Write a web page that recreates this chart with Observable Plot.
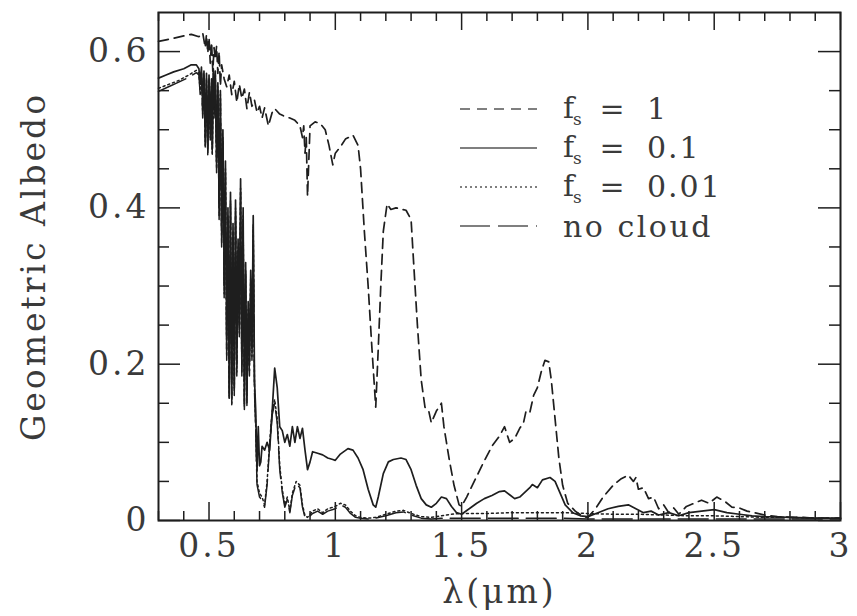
<!DOCTYPE html>
<html><head><meta charset="utf-8">
<script src="https://cdn.jsdelivr.net/npm/d3@7"></script>
<script src="https://cdn.jsdelivr.net/npm/@observablehq/plot@0.6"></script>
<style>
body{margin:0;background:#fff;}
#wrap{position:relative;width:857px;height:616px;}
#legend{position:absolute;left:0;top:0;pointer-events:none;}
</style></head><body>
<div id="wrap"></div>
<script>
// ---- data: [wavelength (µm), geometric albedo] ----
const fs1 = [
[0.30,0.613],[0.33,0.615],[0.36,0.617],[0.40,0.620],[0.43,0.622],[0.46,0.619],[0.475,0.624],[0.485,0.605],
[0.49,0.622],[0.495,0.598],[0.50,0.618],[0.505,0.585],[0.51,0.612],[0.515,0.575],[0.52,0.605],[0.525,0.59],
[0.53,0.607],[0.535,0.572],[0.54,0.60],[0.545,0.556],[0.55,0.583],[0.56,0.565],[0.57,0.555],[0.58,0.57],
[0.59,0.545],[0.60,0.562],[0.61,0.535],[0.62,0.558],[0.63,0.54],[0.64,0.552],[0.65,0.527],[0.66,0.548],
[0.67,0.53],[0.68,0.538],[0.69,0.522],[0.70,0.53],[0.71,0.515],[0.72,0.528],[0.735,0.505],[0.75,0.522],
[0.76,0.527],[0.78,0.52],[0.80,0.517],[0.82,0.515],[0.84,0.512],[0.86,0.505],[0.87,0.49],[0.875,0.505],
[0.88,0.47],[0.885,0.49],[0.89,0.415],[0.895,0.46],[0.90,0.505],[0.92,0.51],[0.94,0.508],[0.96,0.50],
[0.975,0.48],[0.99,0.455],[1.00,0.47],[1.02,0.478],[1.04,0.488],[1.07,0.493],[1.09,0.48],[1.10,0.45],
[1.115,0.37],[1.13,0.30],[1.145,0.22],[1.16,0.145],[1.17,0.22],[1.18,0.30],[1.19,0.37],[1.205,0.405],
[1.22,0.398],[1.24,0.40],[1.28,0.397],[1.30,0.385],[1.31,0.33],[1.325,0.25],[1.34,0.18],[1.355,0.145],
[1.37,0.14],[1.38,0.125],[1.40,0.14],[1.42,0.15],[1.43,0.12],[1.45,0.08],[1.47,0.045],[1.49,0.02],
[1.50,0.018],[1.52,0.03],[1.55,0.05],[1.58,0.07],[1.62,0.095],[1.65,0.108],[1.67,0.12],[1.69,0.10],
[1.71,0.105],[1.73,0.118],[1.745,0.125],[1.755,0.14],[1.77,0.138],[1.785,0.16],[1.80,0.17],[1.815,0.19],
[1.83,0.205],[1.845,0.203],[1.855,0.18],[1.87,0.13],[1.885,0.08],[1.90,0.045],[1.92,0.022],[1.95,0.012],
[1.98,0.005],[2.00,0.004],[2.03,0.015],[2.06,0.03],[2.10,0.045],[2.13,0.053],[2.16,0.058],[2.18,0.05],
[2.19,0.055],[2.20,0.04],[2.22,0.042],[2.24,0.028],[2.26,0.03],[2.28,0.015],[2.30,0.02],[2.32,0.01],
[2.34,0.016],[2.36,0.008],[2.39,0.018],[2.42,0.022],[2.45,0.026],[2.48,0.022],[2.51,0.03],[2.54,0.025],
[2.57,0.017],[2.60,0.016],[2.63,0.012],[2.66,0.01],[2.70,0.007],[2.75,0.005],[2.80,0.004],[2.85,0.004],
[2.90,0.003],[2.95,0.003],[3.00,0.003]
];
const fs01 = [
[0.30,0.566],[0.33,0.57],[0.36,0.574],[0.40,0.578],[0.43,0.583],[0.45,0.583],[0.46,0.578],[0.465,0.56],
[0.47,0.58],[0.475,0.53],[0.48,0.575],[0.485,0.49],[0.49,0.572],[0.495,0.476],[0.50,0.57],[0.505,0.50],
[0.51,0.565],[0.513,0.476],[0.517,0.578],[0.52,0.53],[0.525,0.575],[0.53,0.46],[0.535,0.56],[0.54,0.40],
[0.545,0.55],[0.55,0.366],[0.555,0.50],[0.56,0.30],[0.565,0.46],[0.57,0.22],[0.575,0.40],[0.58,0.16],
[0.585,0.42],[0.59,0.157],[0.595,0.38],[0.60,0.17],[0.605,0.41],[0.61,0.20],[0.615,0.36],[0.62,0.25],
[0.625,0.437],[0.63,0.20],[0.635,0.40],[0.64,0.15],[0.645,0.33],[0.65,0.16],[0.655,0.28],[0.66,0.20],
[0.665,0.32],[0.67,0.22],[0.675,0.39],[0.68,0.18],[0.685,0.14],[0.69,0.064],[0.695,0.12],[0.70,0.07],
[0.705,0.075],[0.71,0.095],[0.72,0.09],[0.73,0.10],[0.74,0.09],[0.75,0.14],[0.76,0.195],[0.77,0.17],
[0.78,0.12],[0.79,0.115],[0.80,0.10],[0.81,0.11],[0.82,0.095],[0.83,0.12],[0.84,0.10],[0.85,0.12],
[0.86,0.105],[0.87,0.118],[0.88,0.09],[0.89,0.065],[0.90,0.075],[0.91,0.088],[0.93,0.086],[0.95,0.084],
[0.97,0.08],[0.99,0.078],[1.00,0.077],[1.02,0.085],[1.05,0.092],[1.07,0.09],[1.09,0.08],[1.11,0.065],
[1.13,0.04],[1.15,0.02],[1.16,0.017],[1.17,0.03],[1.19,0.06],[1.21,0.075],[1.23,0.078],[1.26,0.08],
[1.28,0.078],[1.30,0.065],[1.32,0.045],[1.34,0.028],[1.36,0.02],[1.38,0.017],[1.40,0.022],[1.42,0.03],
[1.44,0.028],[1.46,0.018],[1.48,0.01],[1.50,0.008],[1.53,0.015],[1.56,0.022],[1.59,0.028],[1.62,0.032],
[1.65,0.037],[1.67,0.038],[1.69,0.033],[1.71,0.028],[1.73,0.03],[1.75,0.036],[1.77,0.042],[1.78,0.046],
[1.80,0.042],[1.82,0.052],[1.85,0.055],[1.87,0.05],[1.89,0.035],[1.91,0.02],[1.94,0.01],[1.97,0.006],
[2.00,0.005],[2.04,0.01],[2.08,0.015],[2.12,0.018],[2.16,0.02],[2.19,0.015],[2.22,0.01],[2.25,0.012],
[2.28,0.007],[2.32,0.01],[2.36,0.006],[2.40,0.01],[2.45,0.012],[2.50,0.014],[2.55,0.01],[2.60,0.008],
[2.65,0.006],[2.70,0.005],[2.80,0.004],[2.90,0.003],[3.00,0.003]
];
const fs001 = [
[0.30,0.553],[0.34,0.558],[0.38,0.563],[0.42,0.57],[0.45,0.576],[0.46,0.572],[0.465,0.55],[0.47,0.575],
[0.475,0.52],[0.48,0.57],[0.485,0.48],[0.49,0.566],[0.495,0.47],[0.50,0.565],[0.505,0.49],[0.51,0.56],
[0.513,0.47],[0.517,0.572],[0.52,0.52],[0.525,0.57],[0.53,0.45],[0.535,0.555],[0.54,0.39],[0.545,0.545],
[0.55,0.355],[0.555,0.49],[0.56,0.29],[0.565,0.45],[0.57,0.21],[0.575,0.39],[0.58,0.155],[0.585,0.41],
[0.59,0.15],[0.595,0.37],[0.60,0.165],[0.605,0.40],[0.61,0.19],[0.615,0.35],[0.62,0.24],[0.625,0.425],
[0.63,0.19],[0.635,0.39],[0.64,0.145],[0.645,0.32],[0.65,0.15],[0.655,0.27],[0.66,0.19],[0.665,0.31],
[0.67,0.21],[0.675,0.38],[0.68,0.17],[0.685,0.12],[0.69,0.05],[0.70,0.035],[0.71,0.03],[0.72,0.02],
[0.73,0.05],[0.74,0.10],[0.75,0.14],[0.76,0.155],[0.77,0.13],[0.78,0.07],[0.79,0.04],[0.80,0.02],
[0.81,0.03],[0.82,0.012],[0.83,0.035],[0.845,0.05],[0.86,0.045],[0.87,0.02],[0.88,0.006],[0.89,0.004],
[0.91,0.012],[0.93,0.015],[0.95,0.01],[0.97,0.015],[1.00,0.018],[1.02,0.022],[1.04,0.02],[1.06,0.012],
[1.08,0.006],[1.10,0.004],[1.13,0.003],[1.16,0.004],[1.20,0.008],[1.24,0.012],[1.27,0.013],[1.30,0.009],
[1.34,0.005],[1.38,0.004],[1.42,0.006],[1.46,0.008],[1.50,0.009],[1.60,0.009],[1.70,0.01],[1.80,0.01],
[1.90,0.01],[2.00,0.009],[2.10,0.008],[2.20,0.008],[2.30,0.007],[2.40,0.006],[2.50,0.006],[2.60,0.005],
[2.70,0.004],[2.80,0.004],[2.90,0.003],[3.00,0.003]
];
const noCloud = [
[0.30,0.549],[0.34,0.555],[0.38,0.561],[0.42,0.567],[0.45,0.573],[0.46,0.57],[0.465,0.545],[0.47,0.572],
[0.475,0.515],[0.48,0.567],[0.485,0.478],[0.49,0.563],[0.495,0.468],[0.50,0.562],[0.505,0.487],[0.51,0.557],
[0.513,0.468],[0.517,0.57],[0.52,0.515],[0.525,0.566],[0.53,0.445],[0.535,0.552],[0.54,0.385],[0.545,0.54],
[0.55,0.35],[0.555,0.485],[0.56,0.285],[0.565,0.445],[0.57,0.205],[0.575,0.385],[0.58,0.152],[0.585,0.405],
[0.59,0.148],[0.595,0.365],[0.60,0.16],[0.605,0.395],[0.61,0.185],[0.615,0.345],[0.62,0.235],[0.625,0.42],
[0.63,0.185],[0.635,0.385],[0.64,0.142],[0.645,0.315],[0.65,0.147],[0.655,0.265],[0.66,0.185],[0.665,0.305],
[0.67,0.205],[0.675,0.375],[0.68,0.165],[0.685,0.115],[0.69,0.046],[0.70,0.03],[0.71,0.026],[0.72,0.017],
[0.73,0.046],[0.74,0.095],[0.75,0.135],[0.76,0.15],[0.77,0.125],[0.78,0.065],[0.79,0.036],[0.80,0.017],
[0.81,0.027],[0.82,0.01],[0.83,0.032],[0.845,0.047],[0.86,0.042],[0.87,0.017],[0.88,0.004],[0.89,0.003],
[0.91,0.009],[0.93,0.012],[0.95,0.008],[0.97,0.012],[1.00,0.015],[1.02,0.02],[1.04,0.017],[1.06,0.009],
[1.08,0.004],[1.10,0.003],[1.13,0.002],[1.16,0.003],[1.20,0.006],[1.24,0.01],[1.27,0.011],[1.30,0.007],
[1.34,0.003],[1.38,0.002],[1.42,0.003],[1.46,0.003],[1.50,0.003],[1.60,0.003],[1.70,0.003],[1.80,0.003],
[1.90,0.003],[2.00,0.002],[2.20,0.002],[2.40,0.002],[2.60,0.002],[2.80,0.002],[3.00,0.002]
];

// ---- axis tick values ----
const xMajor = [0.5, 1, 1.5, 2, 2.5, 3];
const xMinor = [0.3,0.4,0.6,0.7,0.8,0.9,1.1,1.2,1.3,1.4,1.6,1.7,1.8,1.9,2.1,2.2,2.3,2.4,2.6,2.7,2.8,2.9];
const yMajor = [0, 0.2, 0.4, 0.6];
const yMinor = [0.05,0.1,0.15,0.25,0.3,0.35,0.45,0.5,0.55];

// ---- legend ----
const legendValues = ["1", "0.1", "0.01"];
const legendNoCloud = "no cloud";

const toRows = arr => arr.map(([wl, alb]) => ({wl, alb}));

const W = 857, H = 616;
const mL = 158, mR = 17, mT = 12, mB = 96;
const FW = W - mL - mR, FH = H - mT - mB;
const ink = "#1e1e1e";

const chart = Plot.plot({
  width: W, height: H,
  marginLeft: mL, marginRight: mR, marginTop: mT, marginBottom: mB,
  style: {fontFamily: "'DejaVu Serif', serif", fontSize: "33px", color: "#3a3a3a", background: "#fff", letterSpacing: "3px"},
  x: {domain: [0.3, 3]},
  y: {domain: [0, 0.65]},
  marks: [
    Plot.line(toRows(noCloud), {x: "wl", y: "alb", stroke: ink, strokeWidth: 1.5, strokeDasharray: "30,8"}),
    Plot.line(toRows(fs001), {x: "wl", y: "alb", stroke: ink, strokeWidth: 1.5, strokeDasharray: "2,3"}),
    Plot.line(toRows(fs01), {x: "wl", y: "alb", stroke: ink, strokeWidth: 1.7}),
    Plot.line(toRows(fs1), {x: "wl", y: "alb", stroke: ink, strokeWidth: 1.7, strokeDasharray: "10,6"}),
    // inward ticks
    Plot.tickX(xMinor, {x: d => d, insetTop: FH - 9, stroke: ink, strokeWidth: 1.5}),
    Plot.tickX(xMinor, {x: d => d, insetBottom: FH - 9, stroke: ink, strokeWidth: 1.5}),
    Plot.tickX(xMajor, {x: d => d, insetTop: FH - 18, stroke: ink, strokeWidth: 1.5}),
    Plot.tickX(xMajor, {x: d => d, insetBottom: FH - 18, stroke: ink, strokeWidth: 1.5}),
    Plot.tickY(yMinor, {y: d => d, insetRight: FW - 11, stroke: ink, strokeWidth: 1.5}),
    Plot.tickY(yMinor, {y: d => d, insetLeft: FW - 11, stroke: ink, strokeWidth: 1.5}),
    Plot.tickY(yMajor, {y: d => d, insetRight: FW - 22, stroke: ink, strokeWidth: 1.5}),
    Plot.tickY(yMajor, {y: d => d, insetLeft: FW - 22, stroke: ink, strokeWidth: 1.5}),
    Plot.axisX({ticks: xMajor, tickSize: 0, tickPadding: 13, tickFormat: d => String(d),
      label: "λ(μm)", labelAnchor: "center", labelOffset: 82, labelArrow: "none"}),
    Plot.axisY({ticks: yMajor, tickSize: 0, tickPadding: 9, tickFormat: d => d === 0 ? "0" : d.toFixed(1),
      label: "Geometric Albedo", labelAnchor: "center", labelOffset: 137, labelArrow: "none"}),
    Plot.frame({stroke: ink, strokeWidth: 2})
  ]
});
const wrap = document.getElementById("wrap");
wrap.appendChild(chart);

// legend overlay
const leg = d3.select(wrap).append("svg").attr("id", "legend").attr("width", W).attr("height", H)
  .style("font-family", "'DejaVu Serif', serif").style("fill", "#3a3a3a");
const entries = [
  {dash: "10,7", val: legendValues[0]},
  {dash: null, val: legendValues[1]},
  {dash: "2,3", val: legendValues[2]},
  {dash: "30,8", text: legendNoCloud}
];
entries.forEach((e, i) => {
  const y = 109 + i * 39;
  leg.append("line").attr("x1", 460).attr("x2", 537).attr("y1", y).attr("y2", y)
    .attr("stroke", "#555").attr("stroke-width", 1.5).attr("stroke-dasharray", e.dash);
  if (e.text) {
    leg.append("text").attr("x", 563).attr("y", y + 11).attr("font-size", 30)
      .style("letter-spacing", "2.5px").text(e.text);
  } else {
    leg.append("text").attr("x", 563).attr("y", y + 9).attr("font-size", 30).text("f");
    leg.append("text").attr("x", 573).attr("y", y + 16).attr("font-size", 17).text("s");
    leg.append("text").attr("x", 612).attr("y", y + 10).attr("font-size", 30).attr("text-anchor", "middle").text("=");
    leg.append("text").attr("x", 647).attr("y", y + 10).attr("font-size", 30).style("letter-spacing", "2px").text(e.val);
  }
});
</script>
</body></html>
